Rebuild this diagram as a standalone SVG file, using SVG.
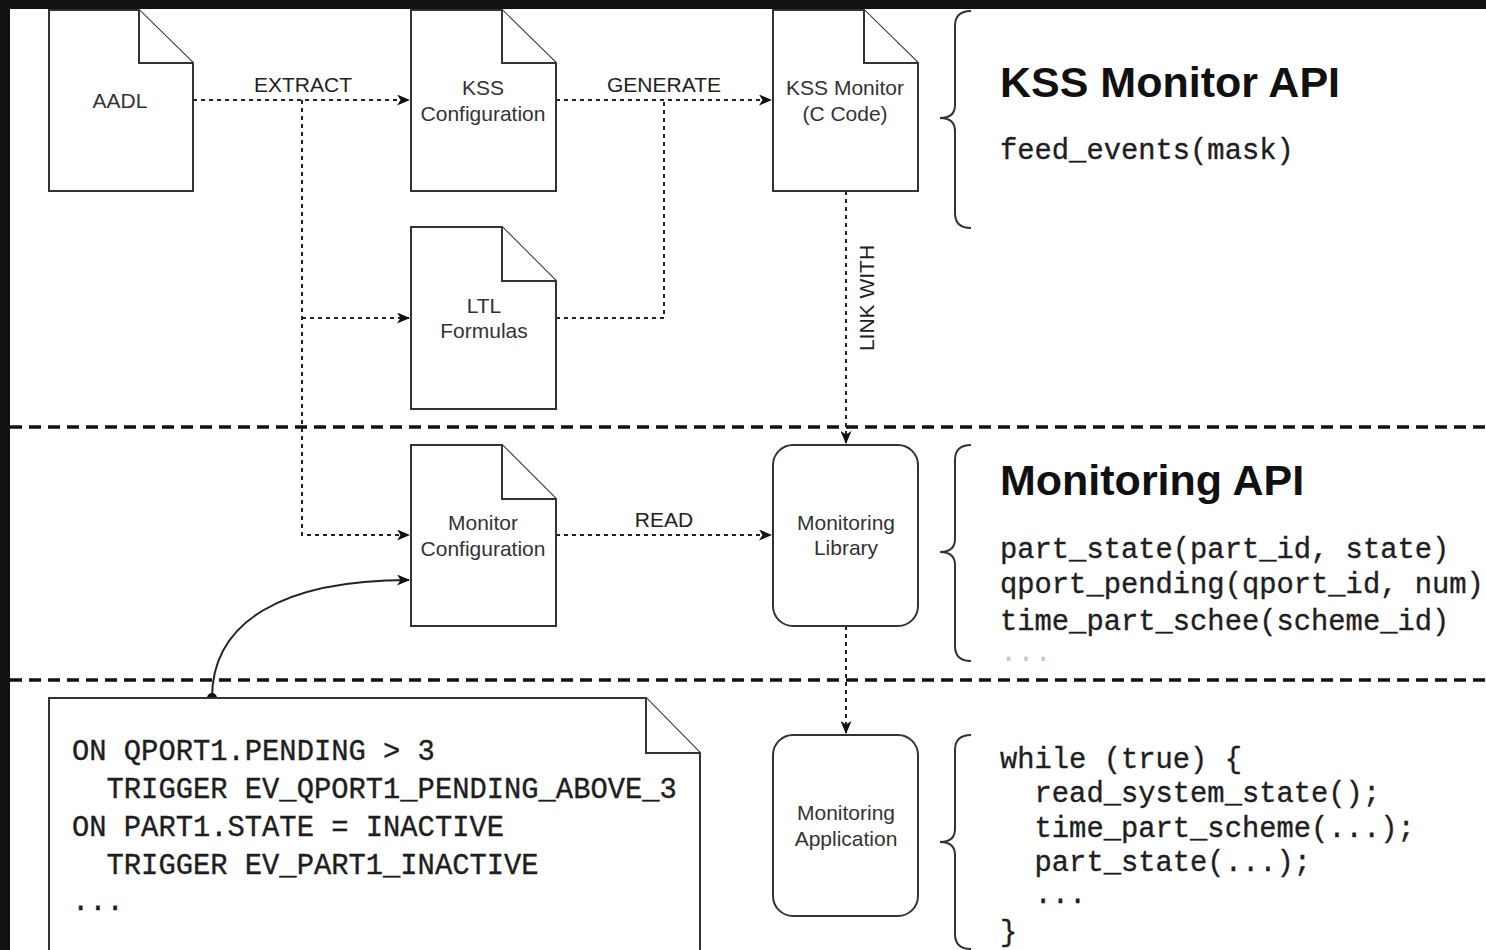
<svg xmlns="http://www.w3.org/2000/svg" width="1486" height="950" viewBox="0 0 1486 950">
  <style>
    .doc { fill: #ffffff; stroke: #333333; stroke-width: 2; }
    .box { fill: #ffffff; stroke: #333333; stroke-width: 2; }
    .lbl { font-family: "Liberation Sans", Arial, sans-serif; font-size: 21px; fill: #333333; text-anchor: middle; }
    .elbl { font-family: "Liberation Sans", Arial, sans-serif; font-size: 21px; fill: #222222; text-anchor: middle; }
    .title { font-family: "Liberation Sans", Arial, sans-serif; font-size: 43px; font-weight: bold; fill: #111111; }
    .code { font-family: "Liberation Mono", "Courier New", monospace; font-size: 28.8px; fill: #1e1e1e; white-space: pre; stroke: #1e1e1e; stroke-width: 0.35; }
    .faint { fill: #c8c8c8; stroke: none; }
    .flow { fill: none; stroke: #222222; stroke-width: 2; stroke-dasharray: 4 4; }
    .sep { fill: none; stroke: #111111; stroke-width: 3.5; stroke-dasharray: 12 7; }
    .brace { fill: none; stroke: #333333; stroke-width: 2; }
  </style>
  <defs>
    <marker id="arrow" viewBox="0 0 13 11" refX="12" refY="5.5" markerWidth="13" markerHeight="11" markerUnits="userSpaceOnUse" orient="auto">
      <path d="M0,0 L13,5.5 L0,11 L3.5,5.5 Z" fill="#111111"/>
    </marker>
    <marker id="dot" viewBox="0 0 10 10" refX="5" refY="5" markerWidth="10" markerHeight="10" markerUnits="userSpaceOnUse">
      <circle cx="5" cy="5" r="5" fill="#111111"/>
    </marker>
  </defs>

  <!-- page background and dark frame -->
  <rect x="0" y="0" width="1486" height="950" fill="#ffffff"/>
  <rect x="0" y="0" width="1486" height="9" fill="#111111"/>
  <rect x="0" y="0" width="10" height="950" fill="#111111"/>

  <!-- layer separators -->
  <g id="separators">
    <line class="sep" x1="10" y1="427" x2="1486" y2="427"/>
    <line class="sep" x1="10" y1="680" x2="1486" y2="680"/>
  </g>

  <!-- connectors -->
  <g id="connectors">
    <path class="flow" d="M193,100 H409" marker-end="url(#arrow)"/>
    <path class="flow" d="M302,100 V535 H409" marker-end="url(#arrow)"/>
    <path class="flow" d="M302,318 H409" marker-end="url(#arrow)"/>
    <path class="flow" d="M556,100 H771" marker-end="url(#arrow)"/>
    <path class="flow" d="M556,318 H664 V100"/>
    <path class="flow" d="M846,191 V443" marker-end="url(#arrow)"/>
    <path class="flow" d="M556,535 H771" marker-end="url(#arrow)"/>
    <path class="flow" d="M846,626 V733" marker-end="url(#arrow)"/>
    <path d="M212,698 C212,622 282,580 409,580" fill="none" stroke="#222222" stroke-width="2" marker-start="url(#dot)" marker-end="url(#arrow)"/>
    <text class="elbl" x="303" y="92">EXTRACT</text>
    <text class="elbl" x="664" y="92">GENERATE</text>
    <text class="elbl" x="664" y="527">READ</text>
    <text class="elbl" transform="translate(874,298) rotate(-90)" x="0" y="0">LINK WITH</text>
  </g>

  <!-- document nodes -->
  <g id="aadl">
    <path class="doc" d="M49,10 H139 L193,63 V191 H49 Z"/>
    <path class="doc" d="M139,10 V63 H193" fill="none"/>
    <text class="lbl" x="120" y="108">AADL</text>
  </g>
  <g id="kss-configuration">
    <path class="doc" d="M411,10 H502 L556,63 V191 H411 Z"/>
    <path class="doc" d="M502,10 V63 H556" fill="none"/>
    <text class="lbl" x="483" y="95">KSS</text>
    <text class="lbl" x="483" y="121">Configuration</text>
  </g>
  <g id="kss-monitor">
    <path class="doc" d="M773,10 H864 L918,63 V191 H773 Z"/>
    <path class="doc" d="M864,10 V63 H918" fill="none"/>
    <text class="lbl" x="845" y="95">KSS Monitor</text>
    <text class="lbl" x="845" y="121">(C Code)</text>
  </g>
  <g id="ltl-formulas">
    <path class="doc" d="M411,227 H502 L556,281 V409 H411 Z"/>
    <path class="doc" d="M502,227 V281 H556" fill="none"/>
    <text class="lbl" x="484" y="313">LTL</text>
    <text class="lbl" x="484" y="338">Formulas</text>
  </g>
  <g id="monitor-configuration">
    <path class="doc" d="M411,445 H502 L556,499 V626 H411 Z"/>
    <path class="doc" d="M502,445 V499 H556" fill="none"/>
    <text class="lbl" x="483" y="530">Monitor</text>
    <text class="lbl" x="483" y="556">Configuration</text>
  </g>

  <!-- process nodes -->
  <g id="monitoring-library">
    <rect class="box" x="773" y="445" width="145" height="181" rx="20" ry="20"/>
    <text class="lbl" x="846" y="530">Monitoring</text>
    <text class="lbl" x="846" y="555">Library</text>
  </g>
  <g id="monitoring-application">
    <rect class="box" x="773" y="735" width="145" height="181" rx="20" ry="20"/>
    <text class="lbl" x="846" y="820">Monitoring</text>
    <text class="lbl" x="846" y="846">Application</text>
  </g>

  <!-- event rule document -->
  <g id="event-rules">
    <path class="doc" d="M49,960 V698 H646 L700,753 V960"/>
    <path class="doc" d="M646,698 V753 H700" fill="none"/>
    <text class="code" x="72" y="760">ON QPORT1.PENDING &gt; 3</text>
    <text class="code" x="72" y="798">  TRIGGER EV_QPORT1_PENDING_ABOVE_3</text>
    <text class="code" x="72" y="836">ON PART1.STATE = INACTIVE</text>
    <text class="code" x="72" y="874">  TRIGGER EV_PART1_INACTIVE</text>
    <text class="code" x="72" y="910">...</text>
  </g>

  <!-- API annotations -->
  <g id="kss-monitor-api">
    <path class="brace" d="M971,11 Q955,11 955,26 V105 Q955,118 940,118 Q955,118 955,131 V213 Q955,228 971,228"/>
    <text class="title" x="1000" y="97">KSS Monitor API</text>
    <text class="code" x="1000" y="159">feed_events(mask)</text>
  </g>
  <g id="monitoring-api">
    <path class="brace" d="M971,445 Q955,445 955,460 V539 Q955,552 940,552 Q955,552 955,565 V646 Q955,661 971,661"/>
    <text class="title" x="1000" y="495">Monitoring API</text>
    <text class="code" x="1000" y="558">part_state(part_id, state)</text>
    <text class="code" x="1000" y="593">qport_pending(qport_id, num)</text>
    <text class="code" x="1000" y="630">time_part_schee(scheme_id)</text>
    <text class="code faint" x="1000" y="661">...</text>
  </g>
  <g id="monitoring-loop">
    <path class="brace" d="M971,735 Q955,735 955,750 V829 Q955,842 940,842 Q955,842 955,855 V934 Q955,949 971,949"/>
    <text class="code" x="1000" y="768">while (true) {</text>
    <text class="code" x="1000" y="802">  read_system_state();</text>
    <text class="code" x="1000" y="837">  time_part_scheme(...);</text>
    <text class="code" x="1000" y="871">  part_state(...);</text>
    <text class="code" x="1000" y="903">  ...</text>
    <text class="code" x="1000" y="941">}</text>
  </g>
</svg>
